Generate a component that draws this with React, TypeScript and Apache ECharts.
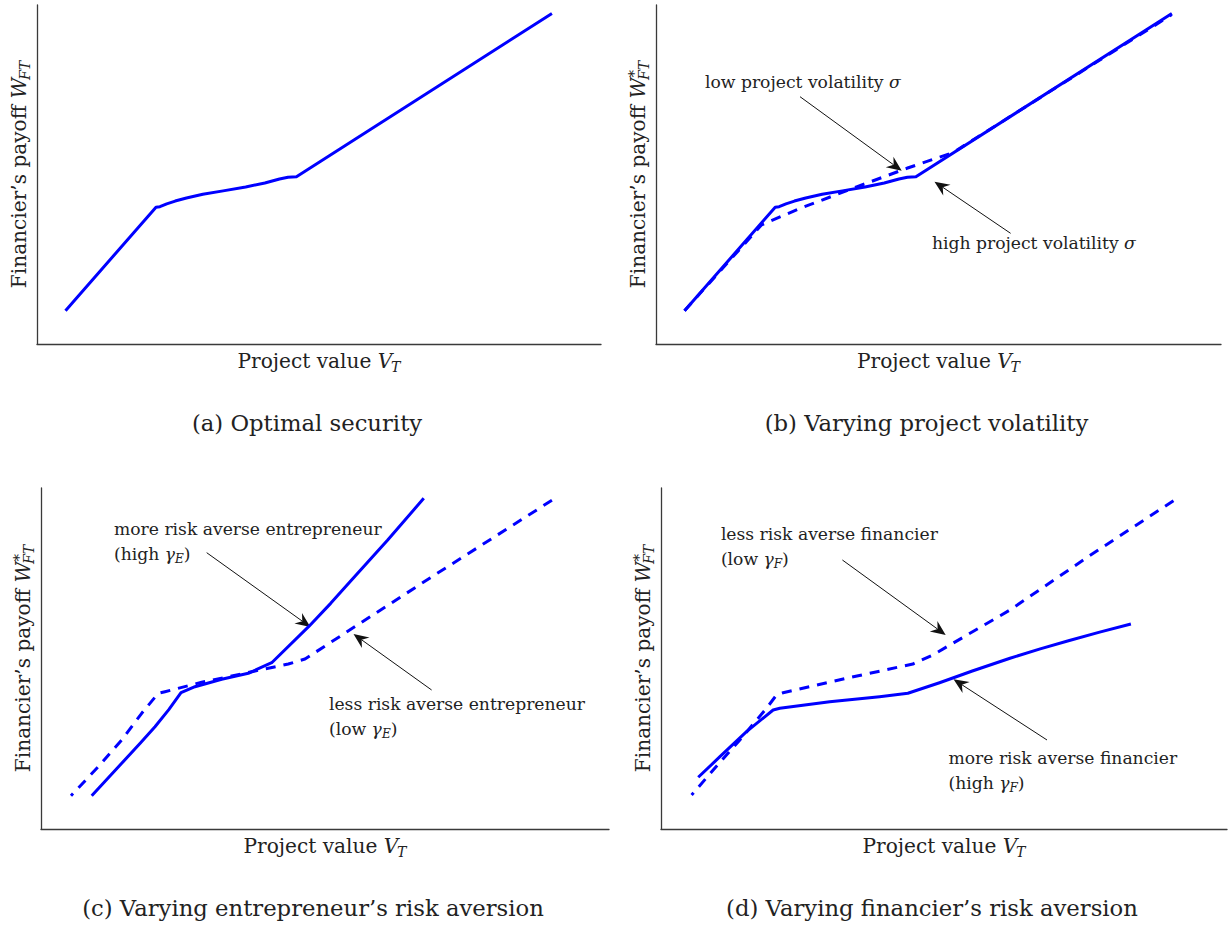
import React, { useEffect, useRef } from "react";
import * as echarts from "echarts";

const SERIF = '"DejaVu Serif", "Liberation Serif", serif';
const BLUE = "#0000ff";
const INK = "#222222";
const AXIS = "#3a3a3a";

const X_MAX = 10;
const Y_MAX = 6;

// (a) Optimal security
const optimalX = [0.505, 2.11, 2.18, 2.3, 2.45, 2.65, 2.94, 3.3, 3.7, 4.04, 4.3, 4.45, 4.6, 9.13];
const optimalY = [0.59, 2.42, 2.43, 2.48, 2.53, 2.585, 2.65, 2.71, 2.78, 2.85, 2.92, 2.95, 2.96, 5.85];

// (b) Varying project volatility
const highVolX = [0.505, 2.11, 2.18, 2.3, 2.45, 2.65, 2.94, 3.3, 3.7, 4.04, 4.3, 4.45, 4.6, 9.13];
const highVolY = [0.59, 2.42, 2.43, 2.48, 2.53, 2.585, 2.65, 2.71, 2.78, 2.85, 2.92, 2.95, 2.96, 5.85];
const lowVolX = [0.505, 1.87, 2.55, 3.55, 4.44, 5.26, 9.13];
const lowVolY = [0.59, 2.11, 2.4, 2.78, 3.11, 3.39, 5.83];

// (c) Varying entrepreneur's risk aversion
const highGammaEX = [0.893, 1.421, 1.75, 2.007, 2.25, 2.465, 2.711, 3.181, 3.65, 4.062, 4.711, 5.1, 5.468, 6.1, 6.739];
const highGammaEY = [0.586, 1.156, 1.515, 1.8, 2.1, 2.398, 2.504, 2.634, 2.74, 2.926, 3.56, 3.97, 4.381, 5.08, 5.819];
const lowGammaEX = [0.528, 1.009, 1.421, 1.773, 2.065, 2.183, 2.829, 3.768, 4.354, 4.648, 6.849, 9.085];
const lowGammaEY = [0.586, 1.096, 1.566, 2.036, 2.388, 2.416, 2.581, 2.78, 2.903, 2.991, 4.417, 5.842];

// (d) Varying financier's risk aversion
const highGammaFX = [0.658, 1.041, 1.511, 1.981, 2.099, 2.981, 3.862, 4.362, 4.921, 5.5, 6.166, 6.7, 7.199, 7.75, 8.302];
const highGammaFY = [0.91, 1.272, 1.712, 2.094, 2.124, 2.24, 2.328, 2.388, 2.574, 2.78, 3.004, 3.17, 3.313, 3.465, 3.607];
const lowGammaFX = [0.541, 0.922, 1.393, 1.864, 2.041, 2.157, 3.275, 4.45, 4.802, 6.166, 7.566, 9.162];
const lowGammaFY = [0.598, 1.038, 1.566, 2.124, 2.358, 2.398, 2.652, 2.903, 3.062, 3.854, 4.804, 5.847];

const captions = [
  "(a) Optimal security",
  "(b) Varying project volatility",
  "(c) Varying entrepreneur\u2019s risk aversion",
  "(d) Varying financier\u2019s risk aversion",
];

// panel boxes in page pixels
const PANELS = [
  { left: 37, top: 5, width: 564, height: 339 },
  { left: 656, top: 5, width: 565, height: 339 },
  { left: 41, top: 488, width: 568, height: 341 },
  { left: 661, top: 488, width: 566, height: 341 },
];

type Curve = { panel: number; x: number[]; y: number[]; dashed: boolean; dashOffset?: number };
const curves: Curve[] = [
  { panel: 0, x: optimalX, y: optimalY, dashed: false },
  { panel: 1, x: highVolX, y: highVolY, dashed: false },
  { panel: 1, x: lowVolX, y: lowVolY, dashed: true },
  { panel: 2, x: highGammaEX, y: highGammaEY, dashed: false },
  { panel: 2, x: lowGammaEX, y: lowGammaEY, dashed: true, dashOffset: 7 },
  { panel: 3, x: highGammaFX, y: highGammaFY, dashed: false },
  { panel: 3, x: lowGammaFX, y: lowGammaFY, dashed: true, dashOffset: 7 },
];

type Part = { t: string; s?: number; i?: boolean; dy?: number; dx?: number; hold?: boolean };

const xName: Part[] = [
  { t: "Project value " },
  { t: "V", i: true },
  { t: "T", s: 0.7, i: true, dy: 0.3, dx: -0.06 },
];
const yNamePlain: Part[] = [
  { t: "Financier\u2019s payoff " },
  { t: "W", i: true },
  { t: "FT", s: 0.7, i: true, dy: 0.3, dx: -0.1 },
];
const yNameStar: Part[] = [
  { t: "Financier\u2019s payoff " },
  { t: "W", i: true },
  { t: "*", s: 0.75, dy: -0.22, dx: 0.02, hold: true },
  { t: "FT", s: 0.7, i: true, dy: 0.3, dx: -0.1 },
];

// annotations: text anchor, arrow tail and tip, all in panel data units
type Note = { panel: number; lines: Part[][]; at: [number, number]; tail: [number, number]; tip: [number, number] };
const sigmaLow: Part[] = [{ t: "low project volatility " }, { t: "\u03c3", i: true }];
const moreEntrepreneur: Part[] = [{ t: "more risk averse entrepreneur" }];
const notes: Note[] = [
  {
    panel: 1,
    lines: [sigmaLow],
    at: [0.867, 4.637],
    tail: [2.549, 4.377],
    tip: [4.349, 3.067],
  },
  {
    panel: 1,
    lines: [[{ t: "high project volatility " }, { t: "\u03c3", i: true }]],
    at: [4.885, 1.788],
    tail: [6.276, 1.959],
    tip: [4.929, 2.873],
  },
  {
    panel: 2,
    lines: [
      moreEntrepreneur,
      [{ t: "(high " }, { t: "\u03b3", i: true }, { t: "E", s: 0.7, i: true, dy: 0.3 }, { t: ")" }],
    ],
    at: [1.285, 5.279],
    tail: [2.917, 4.862],
    tip: [4.743, 3.555],
  },
  {
    panel: 2,
    lines: [
      [{ t: "less risk averse entrepreneur" }],
      [{ t: "(low " }, { t: "\u03b3", i: true }, { t: "E", s: 0.7, i: true, dy: 0.3 }, { t: ")" }],
    ],
    at: [5.07, 2.2],
    tail: [6.877, 2.446],
    tip: [5.502, 3.431],
  },
  {
    panel: 3,
    lines: [
      [{ t: "less risk averse financier" }],
      [{ t: "(low " }, { t: "\u03b3", i: true }, { t: "F", s: 0.7, i: true, dy: 0.3 }, { t: ")" }],
    ],
    at: [1.058, 5.19],
    tail: [3.205, 4.733],
    tip: [5.03, 3.414],
  },
  {
    panel: 3,
    lines: [
      [{ t: "more risk averse financier" }],
      [{ t: "(high " }, { t: "\u03b3", i: true }, { t: "F", s: 0.7, i: true, dy: 0.3 }, { t: ")" }],
    ],
    at: [5.079, 1.249],
    tail: [6.82, 1.566],
    tip: [5.168, 2.634],
  },
];

const NOTE_LINE_GAP = 25;

let measureCtx: CanvasRenderingContext2D | null = null;
function measure(text: string, size: number, italic: boolean): number {
  if (!measureCtx) measureCtx = document.createElement("canvas").getContext("2d");
  if (!measureCtx) return text.length * size * 0.5;
  measureCtx.font = `${italic ? "italic " : ""}${size}px ${SERIF}`;
  return measureCtx.measureText(text).width;
}

function layout(parts: Part[], base: number) {
  let cursor = 0;
  const placed: { p: Part; x: number; size: number }[] = [];
  for (const p of parts) {
    const size = base * (p.s ?? 1);
    const start = cursor + (p.dx ?? 0) * base;
    const w = measure(p.t, size, !!p.i);
    placed.push({ p, x: start, size });
    if (!p.hold) cursor = start + w;
  }
  return { placed, width: cursor };
}

// font size that gives a run of text the requested overall width
function fitSize(parts: Part[], width: number) {
  return (100 * width) / layout(parts, 100).width;
}

function mathText(parts: Part[], base: number, anchor: "left" | "center", x: number, y: number, rotation = 0) {
  const { placed, width } = layout(parts, base);
  const shift = anchor === "center" ? -width / 2 : 0;
  const children = placed.map(({ p, x: px, size }) => ({
    type: "text",
    x: px + shift,
    y: (p.dy ?? 0) * base,
    silent: true,
    style: {
      text: p.t,
      fontSize: size,
      fontFamily: SERIF,
      fontStyle: p.i ? "italic" : "normal",
      fill: INK,
      align: "left",
      textAlign: "left",
      verticalAlign: "middle",
      textVerticalAlign: "middle",
    },
  }));
  return { type: "group", x, y, rotation, children };
}

function arrow(tail: number[], tip: number[]) {
  const dx = tip[0] - tail[0];
  const dy = tip[1] - tail[1];
  const len = Math.hypot(dx, dy);
  const ux = dx / len;
  const uy = dy / len;
  const nx = -uy;
  const ny = ux;
  const L = 15;
  const W = 6.5;
  const notch = 10;
  const back = [tip[0] - L * ux, tip[1] - L * uy];
  const mid = [tip[0] - notch * ux, tip[1] - notch * uy];
  return [
    {
      type: "line",
      silent: true,
      shape: { x1: tail[0], y1: tail[1], x2: mid[0], y2: mid[1] },
      style: { stroke: "#111", lineWidth: 1 },
    },
    {
      type: "polygon",
      silent: true,
      shape: {
        points: [
          [tip[0], tip[1]],
          [back[0] + W * nx, back[1] + W * ny],
          [mid[0], mid[1]],
          [back[0] - W * nx, back[1] - W * ny],
        ],
      },
      style: { fill: "#111" },
    },
  ];
}

function baseOption() {
  return {
    animation: false,
    backgroundColor: "#ffffff",
    grid: PANELS.map((p) => ({ ...p, containLabel: false, outerBoundsMode: "none" })),
    xAxis: PANELS.map((_, i) => ({
      type: "value",
      gridIndex: i,
      min: 0,
      max: X_MAX,
      axisLine: { show: true, onZero: false, lineStyle: { color: AXIS, width: 1.3 } },
      axisTick: { show: false },
      axisLabel: { show: false },
      splitLine: { show: false },
    })),
    yAxis: PANELS.map((_, i) => ({
      type: "value",
      gridIndex: i,
      min: 0,
      max: Y_MAX,
      axisLine: { show: true, onZero: false, lineStyle: { color: AXIS, width: 1.3 } },
      axisTick: { show: false },
      axisLabel: { show: false },
      splitLine: { show: false },
    })),
    series: curves.map((c) => ({
      type: "line",
      xAxisIndex: c.panel,
      yAxisIndex: c.panel,
      data: c.x.map((x, k) => [x, c.y[k]]),
      showSymbol: false,
      symbol: "none",
      silent: true,
      z: c.dashed ? 3 : 2,
      lineStyle: {
        color: BLUE,
        width: 3,
        type: c.dashed ? [10, 8] : "solid",
        dashOffset: c.dashOffset ?? 0,
        cap: "butt",
        join: "round",
      },
    })),
  };
}

function buildGraphics(chart: echarts.ECharts) {
  const axisFont = fitSize(xName, 163);
  const noteFont = fitSize(moreEntrepreneur, 268);
  const captionFont = fitSize([{ t: captions[2] }], 462);
  const out: any[] = [];
  PANELS.forEach((p, i) => {
    const cx = p.left + p.width / 2;
    const cy = p.top + p.height / 2;
    const bottom = p.top + p.height;
    out.push(mathText(xName, axisFont, "center", cx, bottom + 17));
    out.push(mathText(i === 0 ? yNamePlain : yNameStar, axisFont, "center", p.left - 18, cy, Math.PI / 2));
    out.push(mathText([{ t: captions[i] }], captionFont, "center", cx - 12, bottom + 79));
  });
  notes.forEach((n) => {
    const toPx = (v: [number, number]) => chart.convertToPixel({ gridIndex: n.panel }, v) as number[];
    const at = toPx(n.at);
    n.lines.forEach((line, k) => out.push(mathText(line, noteFont, "left", at[0], at[1] + k * NOTE_LINE_GAP)));
    out.push(...arrow(toPx(n.tail), toPx(n.tip)));
  });
  return out;
}

export default function App() {
  const ref = useRef<HTMLDivElement>(null);
  useEffect(() => {
    document.body.style.margin = "0";
    const el = ref.current;
    if (!el) return;
    const chart = echarts.init(el, null, { renderer: "svg" });
    chart.setOption(baseOption() as any);
    chart.setOption({ graphic: buildGraphics(chart) } as any);
    return () => chart.dispose();
  }, []);
  return (
    <div
      ref={ref}
      style={{ position: "absolute", left: 0, top: 0, width: 1228, height: 927, background: "#ffffff" }}
    />
  );
}
